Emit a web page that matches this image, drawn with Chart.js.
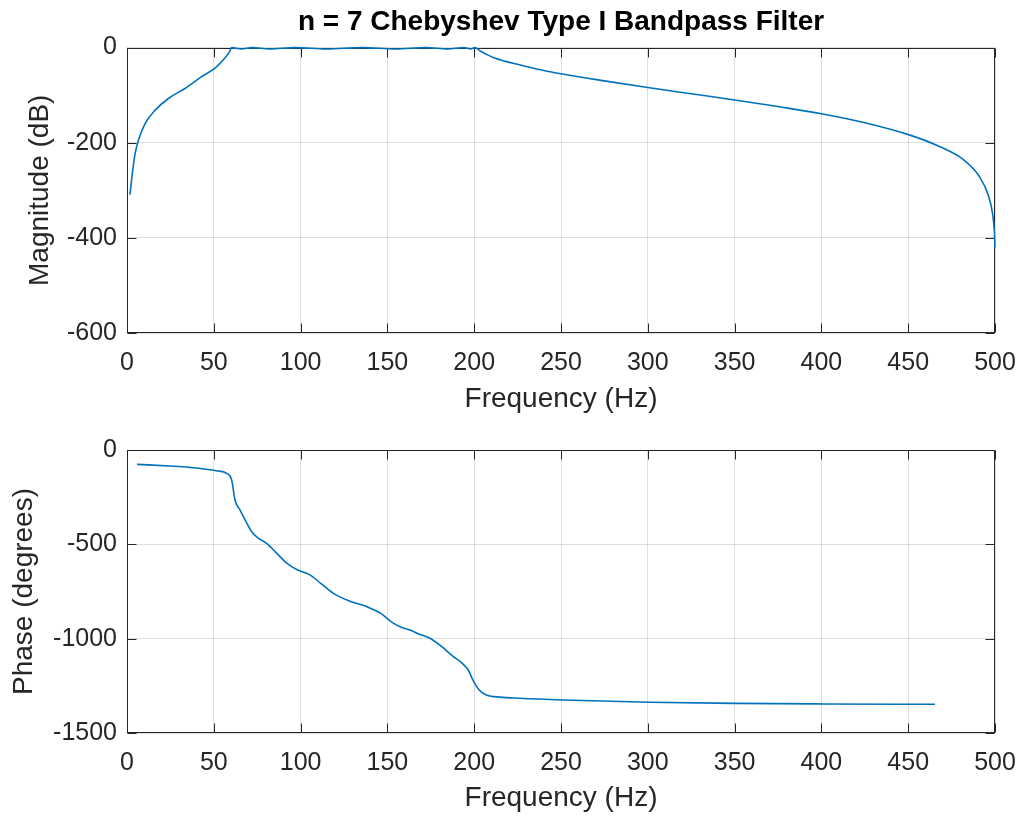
<!DOCTYPE html>
<html>
<head>
<meta charset="utf-8">
<script src="https://cdn.jsdelivr.net/npm/chart.js"></script>
<style>
  body { margin: 0; background: #fff; }
  #wrap { position: relative; width: 1022px; height: 819px; }
  canvas { position: absolute; left: 0; }
</style>
</head>
<body>
<div id="wrap">
  <canvas id="magChart" width="1022" height="420" style="top:0"></canvas>
  <canvas id="phaseChart" width="1022" height="399" style="top:420px"></canvas>
</div>
<script>
// magnitude response
const magFreq = [1.7, 3, 4.6, 6.5, 10.4, 16.1, 23.8, 33.4, 43, 50.7, 56.4, 59, 60.3,
  66, 72, 82, 97, 115, 135, 155, 172, 185, 194, 198, 200.5,
  203, 207, 211, 218, 226, 240, 250, 275, 300, 325, 350, 375, 400, 425, 451, 468, 482, 491, 496, 498.7, 499.6, 500]
const magDb = [-309, -267, -224, -196, -160, -132, -107, -86, -61, -43, -22, -9, 0,
  -3, 0, -3, 0, -3, 0, -3, 0, -3, 0, -3, 0,
  -6, -14, -21, -29, -36, -48, -55, -70, -84, -97, -110, -124, -139, -158, -184, -208, -236, -271, -309, -351, -385, -420]

// phase response
const phaseFreq = [5.8, 24.8, 36, 51.6, 57.4, 60.3, 62.2, 65.1, 68, 71.8, 76, 80.4, 86, 92, 98, 105.4, 112, 118.9,
  128, 138, 146, 153.4, 158, 163, 168, 174.5, 181, 188, 193, 196.6, 199, 201.4, 204, 207, 215, 226, 251, 301, 351, 401, 465.4]
const phaseDeg = [-76, -85, -92, -110, -124, -159, -265, -318, -370, -433, -470, -495, -545, -600, -635, -662, -710, -760,
  -800, -830, -865, -918, -940, -954, -975, -998, -1040, -1095, -1130, -1166, -1215, -1254, -1282, -1298, -1310, -1316, -1325, -1337, -1343, -1346, -1348]

const xTicks = [0, 50, 100, 150, 200, 250, 300, 350, 400, 450, 500]
const magTicks = [0, -200, -400, -600]
const phaseTicks = [0, -500, -1000, -1500]

const FONT = "'Liberation Sans', Arial, Helvetica, sans-serif"
const TXT = '#262626'
const BLUE = '#0072BD'

// matlab style box with inward tick marks
const boxTicks = {
  id: 'boxTicks',
  beforeDatasetsDraw(chart) {
    const { ctx, chartArea: a, scales: { x, y } } = chart
    const L = Math.round(a.left) + 0.5, R = Math.round(a.right) - 0.5
    const T = Math.round(a.top) + 0.5, B = Math.round(a.bottom) - 0.5
    ctx.save()
    ctx.strokeStyle = TXT
    ctx.lineWidth = 1
    ctx.strokeRect(L, T, R - L, B - T)
    ctx.beginPath()
    x.ticks.forEach(t => {
      const px = Math.round(x.getPixelForValue(t.value)) + 0.5
      ctx.moveTo(px, B); ctx.lineTo(px, B - 9)
      ctx.moveTo(px, T); ctx.lineTo(px, T + 9)
    })
    y.ticks.forEach(t => {
      const py = Math.round(y.getPixelForValue(t.value)) + 0.5
      ctx.moveTo(L, py); ctx.lineTo(L + 9, py)
      ctx.moveTo(R, py); ctx.lineTo(R - 9, py)
    })
    ctx.stroke()
    ctx.restore()
  }
}

const makeOpts = (cfg) => ({
  responsive: false,
  animation: false,
  layout: { padding: { top: cfg.padTop, right: 27, left: 0, bottom: 0 } },
  plugins: {
    legend: { display: false },
    tooltip: { enabled: false },
    title: {
      display: !!cfg.title,
      text: cfg.title,
      fullSize: false,
      color: '#000',
      font: { family: FONT, size: 28, weight: 'bold', lineHeight: 1.2 },
      padding: { top: 5, bottom: 9 }
    }
  },
  scales: {
    x: {
      type: 'linear',
      min: 0, max: 500,
      afterBuildTicks: (s) => { s.ticks = xTicks.map(v => ({ value: v })) },
      afterFit: (s) => { s.height = cfg.xHeight; s.paddingLeft = 0; s.paddingRight = 0 },
      grid: { color: 'rgba(38,38,38,0.15)', drawTicks: false },
      border: { display: false },
      ticks: { color: TXT, font: { family: FONT, size: 25 }, padding: 15, maxRotation: 0 },
      title: {
        display: true, text: 'Frequency (Hz)', color: TXT,
        font: { family: FONT, size: 28, lineHeight: 1.2 },
        padding: { top: 0, bottom: 4 }
      }
    },
    y: {
      type: 'linear',
      min: cfg.yMin, max: 0,
      afterBuildTicks: (s) => { s.ticks = cfg.yTicks.map(v => ({ value: v })) },
      afterFit: (s) => { s.width = 127 },
      grid: { color: 'rgba(38,38,38,0.15)', drawTicks: false },
      border: { display: false },
      ticks: { color: TXT, font: { family: FONT, size: 25 }, padding: 10, callback: (v) => String(v) },
      title: {
        display: true, text: cfg.yTitle, color: TXT,
        font: { family: FONT, size: 28, lineHeight: 1.2 },
        padding: { top: cfg.yTitlePad, bottom: 0 }
      }
    }
  }
})

const toPts = (xs, ys) => xs.map((v, i) => ({ x: v, y: ys[i] }))

new Chart(document.getElementById('magChart'), {
  type: 'line',
  data: {
    datasets: [{
      data: toPts(magFreq, magDb),
      borderColor: BLUE,
      borderWidth: 1.6,
      pointRadius: 0,
      cubicInterpolationMode: 'monotone',
      clip: false
    }]
  },
  options: makeOpts({
    title: 'n = 7 Chebyshev Type I Bandpass Filter',
    padTop: 0, xHeight: 87, yMin: -600, yTicks: magTicks,
    yTitle: 'Magnitude (dB)', yTitlePad: 23
  }),
  plugins: [boxTicks]
})

new Chart(document.getElementById('phaseChart'), {
  type: 'line',
  data: {
    datasets: [{
      data: toPts(phaseFreq, phaseDeg),
      borderColor: BLUE,
      borderWidth: 1.6,
      pointRadius: 0,
      cubicInterpolationMode: 'monotone',
      clip: false
    }]
  },
  options: makeOpts({
    title: '',
    padTop: 30, xHeight: 86, yMin: -1500, yTicks: phaseTicks,
    yTitle: 'Phase (degrees)', yTitlePad: 7
  }),
  plugins: [boxTicks]
})
</script>
</body>
</html>
